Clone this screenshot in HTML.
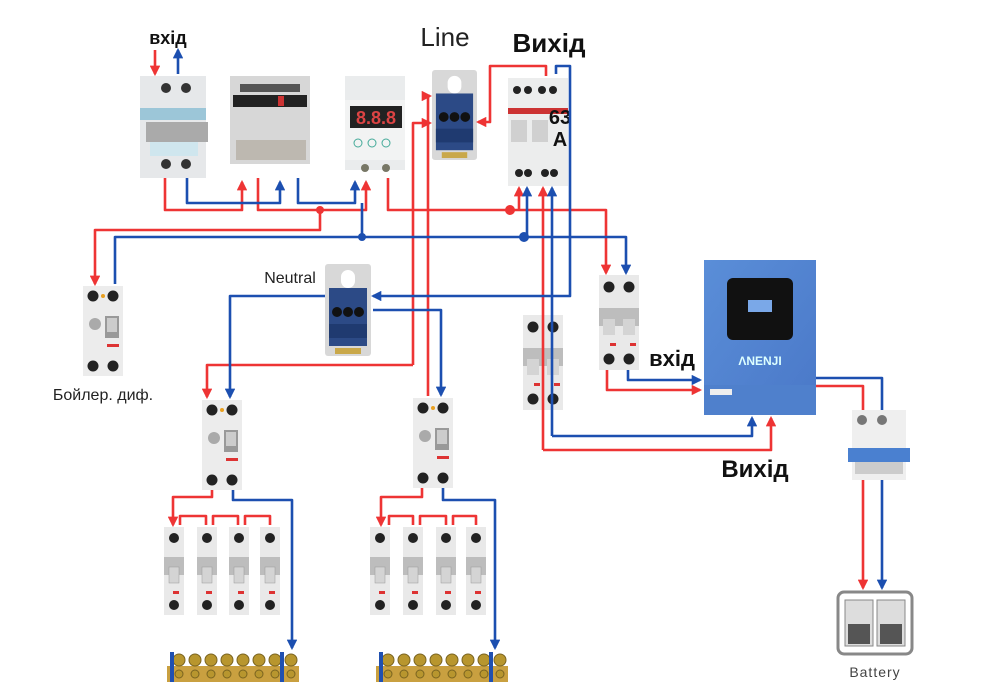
<!DOCTYPE html>
<html><head><meta charset="utf-8"><style>
html,body{margin:0;padding:0;background:#fff;width:1000px;height:690px;overflow:hidden}
text{font-family:"Liberation Sans","DejaVu Sans",sans-serif}
</style></head><body>
<svg width="1000" height="690" viewBox="0 0 1000 690" xmlns="http://www.w3.org/2000/svg">
<defs>
<marker id="ar" viewBox="0 0 10 10" refX="8" refY="5" markerWidth="4" markerHeight="4" orient="auto"><path d="M0,0L10,5L0,10z" fill="#ee3434"/></marker>
<marker id="ab" viewBox="0 0 10 10" refX="8" refY="5" markerWidth="4" markerHeight="4" orient="auto"><path d="M0,0L10,5L0,10z" fill="#1c4fb0"/></marker>
<symbol id="mcb" viewBox="0 0 20 88">
<rect x="0" y="0" width="20" height="88" fill="#e9e9e9"/>
<rect x="0" y="30" width="20" height="18" fill="#bdbdbd"/>
<rect x="5" y="40" width="10" height="16" fill="#d4d4d4" stroke="#999" stroke-width=".5"/>
<circle cx="10" cy="11" r="5" fill="#222"/><circle cx="10" cy="78" r="5" fill="#222"/>
<rect x="9" y="64" width="6" height="3" fill="#d33"/>
</symbol>
<symbol id="mcb2" viewBox="0 0 40 95">
<rect x="0" y="0" width="40" height="95" fill="#e9e9e9"/>
<rect x="0" y="33" width="40" height="18" fill="#bdbdbd"/>
<rect x="4" y="44" width="12" height="16" fill="#d4d4d4"/><rect x="24" y="44" width="12" height="16" fill="#d4d4d4"/>
<circle cx="10" cy="12" r="5.5" fill="#222"/><circle cx="30" cy="12" r="5.5" fill="#222"/>
<circle cx="10" cy="84" r="5.5" fill="#222"/><circle cx="30" cy="84" r="5.5" fill="#222"/>
<rect x="11" y="68" width="6" height="3" fill="#d33"/><rect x="31" y="68" width="6" height="3" fill="#d33"/>
</symbol>
<symbol id="rcd" viewBox="0 0 40 90">
<rect x="0" y="0" width="40" height="90" fill="#ececec"/>
<circle cx="10" cy="10" r="5.5" fill="#222"/><circle cx="30" cy="10" r="5.5" fill="#222"/><circle cx="20" cy="10" r="2" fill="#e9a020"/>
<circle cx="12" cy="38" r="6" fill="#aaa"/><rect x="22" y="30" width="14" height="22" fill="#999"/><rect x="24" y="32" width="10" height="14" fill="#ccc"/>
<rect x="24" y="58" width="12" height="3" fill="#d33"/>
<circle cx="10" cy="80" r="5.5" fill="#222"/><circle cx="30" cy="80" r="5.5" fill="#222"/>
</symbol>
<symbol id="bus" viewBox="0 0 46 92">
<rect x="0" y="0" width="46" height="92" fill="#d8d8d8" rx="3"/>
<rect x="16" y="6" width="14" height="18" rx="7" fill="#fff"/>
<rect x="4" y="24" width="38" height="58" fill="#2c4a86"/>
<circle cx="12" cy="48" r="5" fill="#111"/><circle cx="23" cy="48" r="5" fill="#111"/><circle cx="34" cy="48" r="5" fill="#111"/>
<rect x="4" y="60" width="38" height="14" fill="#1f3a70"/>
<rect x="10" y="84" width="26" height="6" fill="#c9a84a"/>
</symbol>
<symbol id="bar" viewBox="0 0 132 30">
<rect x="0" y="14" width="132" height="16" fill="#c9a040"/>
<g fill="#b8962e" stroke="#7a6420" stroke-width="1">
<circle cx="12" cy="8" r="6"/><circle cx="28" cy="8" r="6"/><circle cx="44" cy="8" r="6"/><circle cx="60" cy="8" r="6"/><circle cx="76" cy="8" r="6"/><circle cx="92" cy="8" r="6"/><circle cx="108" cy="8" r="6"/><circle cx="124" cy="8" r="6"/>
<circle cx="12" cy="22" r="4"/><circle cx="28" cy="22" r="4"/><circle cx="44" cy="22" r="4"/><circle cx="60" cy="22" r="4"/><circle cx="76" cy="22" r="4"/><circle cx="92" cy="22" r="4"/><circle cx="108" cy="22" r="4"/><circle cx="124" cy="22" r="4"/>
</g>
<rect x="3" y="0" width="4" height="30" fill="#2050b0"/><rect x="113" y="0" width="4" height="30" fill="#2050b0"/>
</symbol>
<linearGradient id="inv" x1="0" y1="0" x2="1" y2="1"><stop offset="0" stop-color="#5a8ed8"/><stop offset="1" stop-color="#4a78c8"/></linearGradient>
</defs>

<!-- Devices -->
<!-- main breaker -->
<rect x="140" y="76" width="66" height="102" fill="#e6e8ea"/>
<rect x="140" y="108" width="66" height="12" fill="#9cc6d8"/>
<rect x="146" y="122" width="62" height="20" fill="#aaa"/>
<rect x="150" y="142" width="48" height="14" fill="#cfe6ee"/>
<circle cx="166" cy="88" r="5" fill="#333"/><circle cx="186" cy="88" r="5" fill="#333"/>
<circle cx="166" cy="164" r="5" fill="#333"/><circle cx="186" cy="164" r="5" fill="#333"/>
<!-- meter -->
<rect x="230" y="76" width="80" height="88" fill="#d7d7d7"/>
<rect x="240" y="84" width="60" height="8" fill="#555"/>
<rect x="233" y="95" width="74" height="12" fill="#222"/>
<rect x="278" y="96" width="6" height="10" fill="#c33"/>
<rect x="236" y="140" width="70" height="20" fill="#bdb8b0"/>
<!-- voltage relay -->
<rect x="345" y="76" width="60" height="94" fill="#eaeced"/>
<rect x="345" y="100" width="60" height="60" fill="#f2f3f3"/>
<rect x="350" y="106" width="52" height="22" fill="#222"/>
<text x="376" y="124" font-size="18" fill="#d44" text-anchor="middle" font-weight="bold">8.8.8</text>
<circle cx="358" cy="143" r="4" fill="none" stroke="#4a9" stroke-width="1"/><circle cx="372" cy="143" r="4" fill="none" stroke="#4a9" stroke-width="1"/><circle cx="386" cy="143" r="4" fill="none" stroke="#4a9" stroke-width="1"/>
<circle cx="365" cy="168" r="4" fill="#776"/><circle cx="386" cy="168" r="4" fill="#776"/>
<!-- line bus -->
<use href="#bus" x="432" y="65" width="45" height="100"/>
<!-- transfer switch -->
<rect x="508" y="78" width="60" height="108" fill="#eceded"/>
<rect x="508" y="108" width="60" height="6" fill="#c33"/>
<circle cx="517" cy="90" r="4" fill="#222"/><circle cx="528" cy="90" r="4" fill="#222"/><circle cx="542" cy="90" r="4" fill="#222"/><circle cx="553" cy="90" r="4" fill="#222"/>
<rect x="511" y="120" width="16" height="22" fill="#d0d0d0"/><rect x="532" y="120" width="16" height="22" fill="#d0d0d0"/>
<circle cx="519" cy="173" r="4" fill="#222"/><circle cx="528" cy="173" r="4" fill="#222"/><circle cx="545" cy="173" r="4" fill="#222"/><circle cx="554" cy="173" r="4" fill="#222"/>
<text x="560" y="124" font-size="20" font-weight="bold" text-anchor="middle" fill="#111">63</text>
<text x="560" y="146" font-size="20" font-weight="bold" text-anchor="middle" fill="#111">A</text>
<!-- boiler diff -->
<use href="#rcd" x="78" y="286" width="50" height="90"/>
<!-- neutral bus -->
<use href="#bus" x="325" y="264" width="46" height="92"/>
<!-- ATS breakers -->
<use href="#mcb2" x="599" y="275" width="40" height="95"/>
<use href="#mcb2" x="523" y="315" width="40" height="95"/>
<!-- inverter -->
<rect x="704" y="260" width="112" height="155" fill="url(#inv)"/>
<rect x="704" y="385" width="112" height="30" fill="#4f80cc"/>
<rect x="727" y="278" width="66" height="62" rx="6" fill="#111"/>
<rect x="748" y="300" width="24" height="12" fill="#7aa8e8"/>
<text x="760" y="365" font-size="12" font-weight="bold" text-anchor="middle" fill="#dff">ΛNENJI</text>
<rect x="710" y="389" width="22" height="6" fill="#eee"/>
<!-- battery breaker -->
<rect x="852" y="410" width="54" height="70" fill="#efefef"/>
<circle cx="862" cy="420" r="5" fill="#777"/><circle cx="882" cy="420" r="5" fill="#777"/>
<rect x="848" y="448" width="62" height="14" fill="#4a80d0"/>
<rect x="855" y="462" width="48" height="12" fill="#ccc"/>
<!-- RCDs -->
<use href="#rcd" x="202" y="400" width="40" height="90"/>
<use href="#rcd" x="413" y="398" width="40" height="90"/>
<!-- MCBs -->
<use href="#mcb" x="164" y="527" width="20" height="88"/>
<use href="#mcb" x="197" y="527" width="20" height="88"/>
<use href="#mcb" x="229" y="527" width="20" height="88"/>
<use href="#mcb" x="260" y="527" width="20" height="88"/>
<use href="#mcb" x="370" y="527" width="20" height="88"/>
<use href="#mcb" x="403" y="527" width="20" height="88"/>
<use href="#mcb" x="436" y="527" width="20" height="88"/>
<use href="#mcb" x="466" y="527" width="20" height="88"/>
<use href="#bar" x="167" y="652" width="132" height="30"/>
<use href="#bar" x="376" y="652" width="132" height="30"/>
<!-- battery -->
<rect x="838" y="592" width="74" height="62" rx="6" fill="none" stroke="#888" stroke-width="3"/>
<rect x="845" y="600" width="28" height="46" fill="#ddd" stroke="#888"/><rect x="877" y="600" width="28" height="46" fill="#ddd" stroke="#888"/>
<rect x="848" y="624" width="22" height="20" fill="#555"/><rect x="880" y="624" width="22" height="20" fill="#555"/>

<!-- Wires -->
<g fill="none" stroke-width="2.6" stroke-linejoin="round">
<g stroke="#ee3434">
<path d="M155 50V74" marker-end="url(#ar)"/>
<path d="M165 178V210H242V182" marker-end="url(#ar)"/>
<path d="M258 178V210H366V182" marker-end="url(#ar)"/>
<path d="M320 210V230H95V284" marker-end="url(#ar)"/>
<path d="M388 178V210H606V273" marker-end="url(#ar)"/>
<path d="M519 210V188" marker-end="url(#ar)"/>
<path d="M543 450V188" marker-end="url(#ar)"/>
<path d="M543 450H771V418" marker-end="url(#ar)"/>
<path d="M546 76V66H490V122H478" marker-end="url(#ar)"/>
<path d="M413 365V123H430" marker-end="url(#ar)"/>
<path d="M428 396V96H430" marker-end="url(#ar)"/>
<path d="M413 365H207V397" marker-end="url(#ar)"/>
<path d="M607 370V390H700" marker-end="url(#ar)"/>
<path d="M816 386H863V410"/>
<path d="M863 480V588" marker-end="url(#ar)"/>
<path d="M212 490V497H173V525" marker-end="url(#ar)"/>
<path d="M180 525V516H206V525M213 525V516H238V525M245 525V516H270V525"/>
<path d="M422 488V497H381V525" marker-end="url(#ar)"/>
<path d="M389 525V516H413V525M420 525V516H446V525M453 525V516H476V525"/>
</g>
<g stroke="#1c4fb0">
<path d="M178 74V50" marker-end="url(#ab)"/>
<path d="M187 178V203H280V182" marker-end="url(#ab)"/>
<path d="M298 178V203H355V182" marker-end="url(#ab)"/>
<path d="M362 203V237"/>
<path d="M115 284V237H626V273" marker-end="url(#ab)"/>
<path d="M527 237V188" marker-end="url(#ab)"/>
<path d="M552 436V188" marker-end="url(#ab)"/>
<path d="M552 436H752V418" marker-end="url(#ab)"/>
<path d="M556 74V66H570V296H373" marker-end="url(#ab)"/>
<path d="M325 296H230V397" marker-end="url(#ab)"/>
<path d="M373 310H441V395" marker-end="url(#ab)"/>
<path d="M628 370V380H700" marker-end="url(#ab)"/>
<path d="M816 378H882V410"/>
<path d="M882 480V588" marker-end="url(#ab)"/>
<path d="M233 490V500H292V648" marker-end="url(#ab)"/>
<path d="M443 488V500H495V648" marker-end="url(#ab)"/>
</g>
</g>
<circle cx="320" cy="210" r="4" fill="#ee3434"/>
<circle cx="510" cy="210" r="5" fill="#ee3434"/>
<circle cx="362" cy="237" r="4" fill="#1c4fb0"/>
<circle cx="524" cy="237" r="5" fill="#1c4fb0"/>

<!-- Labels -->
<text x="168" y="44" font-size="18" font-weight="bold" text-anchor="middle" fill="#111">вхід</text>
<text x="445" y="46" font-size="26" text-anchor="middle" fill="#222">Line</text>
<text x="549" y="52" font-size="26" font-weight="bold" text-anchor="middle" fill="#111">Вихід</text>
<text x="290" y="283" font-size="16" text-anchor="middle" fill="#222">Neutral</text>
<text x="103" y="400" font-size="16" text-anchor="middle" fill="#222">Бойлер. диф.</text>
<text x="672" y="366" font-size="22" font-weight="bold" text-anchor="middle" fill="#111">вхід</text>
<text x="755" y="477" font-size="24" font-weight="bold" text-anchor="middle" fill="#111">Вихід</text>
<text x="875" y="677" font-size="14" text-anchor="middle" fill="#444" letter-spacing="1">Battery</text>
</svg>
</body></html>
